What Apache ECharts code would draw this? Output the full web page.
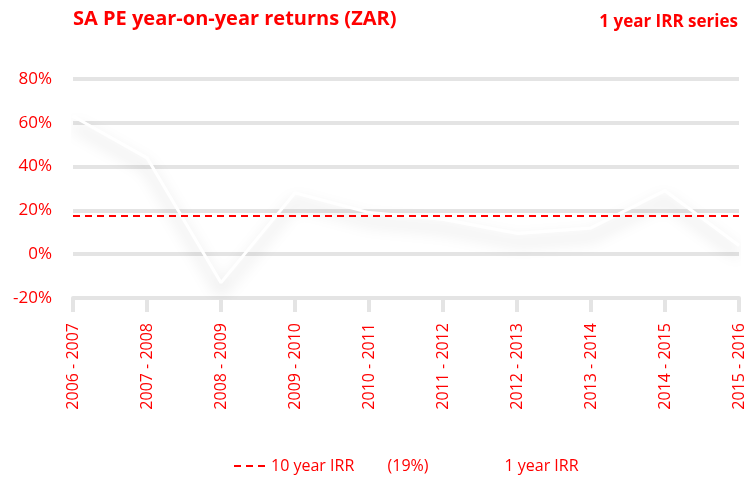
<!DOCTYPE html>
<html>
<head>
<meta charset="utf-8">
<script src="https://cdn.jsdelivr.net/npm/echarts@6/dist/echarts.min.js"></script>
<style>
  html, body { margin: 0; padding: 0; background: #fff; }
  #main { width: 747px; height: 492px; }
</style>
</head>
<body>
<div id="main"></div>
<script>
// periods on the x axis
const periods = ['2006 - 2007', '2007 - 2008', '2008 - 2009', '2009 - 2010', '2010 - 2011',
  '2011 - 2012', '2012 - 2013', '2013 - 2014', '2014 - 2015', '2015 - 2016']
// 1 year IRR, %
const oneYearIrr = [63, 44, -13, 28, 19, 16, 9.5, 12, 29, 4]
// 10 year IRR reference line, %
const tenYearIrr = [17.5, 17.5, 17.5, 17.5, 17.5, 17.5, 17.5, 17.5, 17.5, 17.5]

const RED = '#ff0000'
const FONT = '"Open Sans", sans-serif'

const chart = echarts.init(document.getElementById('main'))

chart.setOption({
  animation: false,
  textStyle: { fontFamily: FONT },
  title: [
    {
      text: 'SA PE year-on-year returns (ZAR)',
      left: 68, top: 4,
      textStyle: { color: RED, fontSize: 20, fontWeight: 'bold', fontFamily: FONT }
    },
    {
      text: '1 year IRR series',
      right: 4, top: 9,
      textStyle: { color: RED, fontSize: 17, fontWeight: 'bold', fontFamily: FONT }
    }
  ],
  grid: { left: 73, right: 4, top: 79, bottom: 194 },
  legend: {
    bottom: 13,
    left: 228,
    itemWidth: 32,
    itemGap: 38,
    itemStyle: { opacity: 0 },
    textStyle: { color: RED, fontSize: 16, fontFamily: FONT },
    data: ['10 year IRR', '1 year IRR'],
    formatter: name => name === '10 year IRR' ? '10 year IRR        (19%)' : name
  },
  xAxis: {
    type: 'category',
    data: periods,
    boundaryGap: false,
    axisLine: { onZero: false, lineStyle: { color: '#e4e4e4', width: 4 } },
    axisTick: { show: true, length: 14, lineStyle: { color: '#e4e4e4', width: 4 } },
    axisLabel: { color: RED, fontSize: 16, rotate: 90, margin: 25, interval: 0, fontFamily: FONT }
  },
  yAxis: {
    type: 'value',
    min: -20, max: 80, interval: 20,
    axisLine: { show: false },
    axisTick: { show: false },
    axisLabel: { color: RED, fontSize: 17, margin: 21, formatter: '{value}%', fontFamily: FONT },
    splitLine: { lineStyle: { color: '#e4e4e4', width: 4 } }
  },
  series: [
    {
      name: '1 year IRR',
      type: 'line',
      data: oneYearIrr,
      showSymbol: false,
      symbol: 'none',
      z: 3,
      lineStyle: {
        color: '#ffffff', width: 3,
        shadowColor: 'rgba(0,0,0,0.22)', shadowBlur: 16, shadowOffsetY: 9
      },
      itemStyle: { color: '#ffffff' }
    },
    {
      name: '10 year IRR',
      type: 'line',
      data: tenYearIrr,
      showSymbol: false,
      symbol: 'none',
      z: 4,
      lineStyle: { color: RED, width: 2, type: [7, 5] },
      itemStyle: { color: RED }
    }
  ]
})
</script>
</body>
</html>
